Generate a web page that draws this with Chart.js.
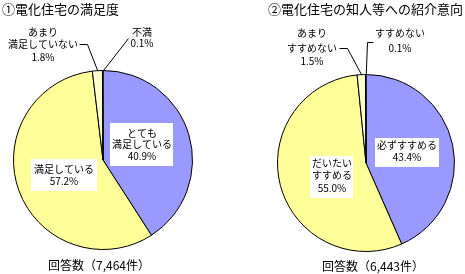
<!DOCTYPE html>
<html>
<head>
<meta charset="utf-8">
<script src="https://cdn.jsdelivr.net/npm/chart.js@4"></script>
<style>
  html, body { margin: 0; padding: 0; background: #fff; }
  #wrap { position: relative; width: 465px; height: 274px; overflow: hidden; }
  .box { position: absolute; top: 0; height: 274px; }
  #box1 { left: 0; width: 232px; }
  #box2 { left: 232px; width: 233px; }
</style>
</head>
<body>
<div id="wrap">
  <div class="box" id="box1"><canvas id="chart1" width="232" height="274"></canvas></div>
  <div class="box" id="box2"><canvas id="chart2" width="233" height="274"></canvas></div>
</div>
<script>
// data
const satisfactionLabels = ["とても満足している", "満足している", "あまり満足していない", "不満"];
const satisfactionValues = [40.9, 57.2, 1.8, 0.1];
const satisfactionCount = "7,464";

const referralLabels = ["必ずすすめる", "だいたいすすめる", "あまりすすめない", "すすめない"];
const referralValues = [43.4, 55.0, 1.5, 0.1];
const referralCount = "6,443";

const sliceColors = ["#9999FF", "#FFFF99", "#FFFFCC", "#FFFFFF"];
const FONT = '"Noto Sans CJK JP", "Noto Sans", sans-serif';

// label layout per slice: lines, centre x, line ys, optional white box, optional leader
const layout1 = {
  title: "①電化住宅の満足度", titleAlign: "left", titleX: 2,
  footer: `回答数（${satisfactionCount}件）`, footerX: 99, footerY: 265,
  slices: [
    { lines: ["とても", "満足している"], x: 142, ys: [133, 144, 156], box: [110, 123, 63, 43] },
    { lines: ["満足している"], x: 64, ys: [169, 181], box: [31, 159, 66, 32] },
    { lines: ["あまり", "満足していない"], x: 43, ys: [32, 44, 57], leader: [[79, 44], [87, 44]] },
    { lines: ["不満"], x: 142, ys: [32, 43], leader: [[128, 38]] },
  ],
};
const layout2 = {
  title: "②電化住宅の知人等への紹介意向", titleAlign: "right", titleX: 231,
  footer: `回答数（${referralCount}件）`, footerX: 141, footerY: 266,
  slices: [
    { lines: ["必ずすすめる"], x: 175, ys: [145, 157], box: [143, 138, 64, 29] },
    { lines: ["だいたい", "すすめる"], x: 100, ys: [163, 175, 188], box: [78, 156, 43, 42] },
    { lines: ["あまり", "すすめない"], x: 80, ys: [33, 48, 61], leader: [[107, 48], [115, 48]] },
    { lines: ["すすめない"], x: 168, ys: [33, 48], leader: [[141, 42], [135, 42]] },
  ],
};

const labelPlugin = (lay, values) => ({
  id: "labels",
  afterDraw: (chart) => {
    const c = chart.ctx;
    const arcs = chart.getDatasetMeta(0).data;
    c.save();
    c.fillStyle = "#000";
    c.textBaseline = "middle";
    c.font = `13px ${FONT}`;
    c.textAlign = lay.titleAlign;
    c.fillText(lay.title, lay.titleX, 9);
    c.textAlign = "center";
    c.font = `12px ${FONT}`;
    c.fillText(lay.footer, lay.footerX, lay.footerY);

    lay.slices.forEach((s, i) => {
      const arc = arcs[i];
      if (s.box) {
        c.fillStyle = "#fff";
        c.fillRect(s.box[0], s.box[1], s.box[2], s.box[3]);
      }
      if (s.leader) {
        const mid = (arc.startAngle + arc.endAngle) / 2;
        const end = [arc.x + Math.cos(mid) * arc.outerRadius, arc.y + Math.sin(mid) * arc.outerRadius];
        const pts = [...s.leader, end];
        c.strokeStyle = "#000";
        c.lineWidth = 1;
        c.beginPath();
        pts.forEach(([px, py], k) => (k ? c.lineTo(px + 0.5, py + 0.5) : c.moveTo(px + 0.5, py + 0.5)));
        c.stroke();
      }
      c.fillStyle = "#000";
      c.font = `10px ${FONT}`;
      const texts = [...s.lines, values[i].toFixed(1) + "%"];
      texts.forEach((t, k) => c.fillText(t, s.x, s.ys[k]));
    });
    c.restore();
  },
});

const paintPie = (id, labels, values, lay, padding) => {
  new Chart(document.getElementById(id).getContext("2d"), {
    type: "pie",
    data: {
      labels: labels,
      datasets: [
        {
          data: values,
          backgroundColor: sliceColors,
          borderColor: "#000",
          borderWidth: 1,
        },
      ],
    },
    options: {
      responsive: false,
      animation: false,
      layout: { padding: padding },
      plugins: {
        legend: { display: false },
        tooltip: { enabled: false },
      },
    },
    plugins: [labelPlugin(lay, values)],
  });
};

paintPie("chart1", satisfactionLabels, satisfactionValues, layout1, { left: 13, right: 39, top: 70, bottom: 24 });
paintPie("chart2", referralLabels, referralValues, layout2, { left: 45, right: 10, top: 74, bottom: 22 });
</script>
</body>
</html>
